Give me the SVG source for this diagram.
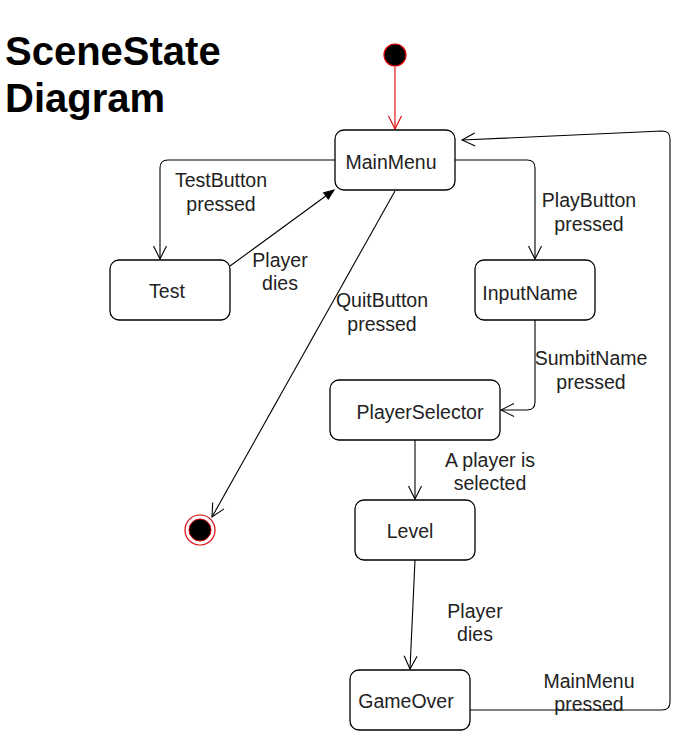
<svg xmlns="http://www.w3.org/2000/svg" width="685" height="731" viewBox="0 0 685 731">
<defs>
<style>
.node{fill:#fff;stroke:#000;stroke-width:1.3}
.t{font-family:"Liberation Sans",Arial,sans-serif;font-size:19.5px;fill:#222;text-anchor:middle}
.edge{fill:none;stroke:#000;stroke-width:1.1}
.title{font-family:"Liberation Sans",Arial,sans-serif;font-size:40px;font-weight:bold;fill:#000}
</style>
<marker id="open" markerUnits="userSpaceOnUse" markerWidth="16" markerHeight="16" viewBox="-14 -8 16 16" refX="0" refY="0" orient="auto">
<path d="M-13,-6.5 L0,0 L-13,6.5" fill="none" stroke="#000" stroke-width="1.1"/>
</marker>
<marker id="openRed" markerUnits="userSpaceOnUse" markerWidth="16" markerHeight="16" viewBox="-14 -8 16 16" refX="0" refY="0" orient="auto">
<path d="M-13,-6.5 L0,0 L-13,6.5" fill="none" stroke="#e00000" stroke-width="1.1"/>
</marker>
<marker id="block" markerUnits="userSpaceOnUse" markerWidth="12" markerHeight="12" viewBox="-11 -6 12 12" refX="0" refY="0" orient="auto">
<path d="M-10,-4 L0,0 L-10,4 Z" fill="#000" stroke="#000" stroke-width="1"/>
</marker>
</defs>
<rect width="685" height="731" fill="#fff"/>
<g id="title">
<text class="title" x="5" y="65">SceneState</text>
<text class="title" x="5" y="112">Diagram</text>
</g>
<g id="connectors">
<path class="edge" d="M395,67 L395,129" style="stroke:#e00000" marker-end="url(#openRed)"/>
<path class="edge" d="M335,160 L168,160 Q160,160 160,168 L160,259" marker-end="url(#open)"/>
<path class="edge" d="M230,266 L334,190" marker-end="url(#block)"/>
<path class="edge" d="M395,191 L212,517" marker-end="url(#open)"/>
<path class="edge" d="M455,160 L527,160 Q535,160 535,168 L535,259" marker-end="url(#open)"/>
<path class="edge" d="M535,320 L535,402 Q535,410 527,410 L501,410" marker-end="url(#open)"/>
<path class="edge" d="M415,440 L415,499" marker-end="url(#open)"/>
<path class="edge" d="M415,560 L410,669" marker-end="url(#open)"/>
<path class="edge" d="M470,710 L662,710 Q670,710 670,702 L670,139 Q670,131 662,131 L462,140" marker-end="url(#open)"/>
</g>
<g id="labels">
<text class="t" x="221" y="187">TestButton</text>
<text class="t" x="221" y="211">pressed</text>
<text class="t" x="280" y="267">Player</text>
<text class="t" x="280" y="290">dies</text>
<text class="t" x="382" y="307">QuitButton</text>
<text class="t" x="382" y="331">pressed</text>
<text class="t" x="589" y="207">PlayButton</text>
<text class="t" x="589" y="231">pressed</text>
<text class="t" x="591" y="365">SumbitName</text>
<text class="t" x="591" y="389">pressed</text>
<text class="t" x="490" y="467">A player is</text>
<text class="t" x="490" y="490">selected</text>
<text class="t" x="475" y="618">Player</text>
<text class="t" x="475" y="641">dies</text>
<text class="t" x="589" y="688">MainMenu</text>
<text class="t" x="589" y="711">pressed</text>
</g>
<g id="start">
<circle cx="395" cy="55" r="11" fill="#000" stroke="#e00000" stroke-width="1.2"/>
</g>
<g id="end">
<circle cx="200" cy="530" r="15" fill="#fff" stroke="#e00000" stroke-width="1.2"/>
<circle cx="200" cy="530" r="11" fill="#000" stroke="#e00000" stroke-width="1"/>
</g>
<g id="MainMenu">
<rect class="node" x="335" y="130" width="120" height="60" rx="9"/>
<text class="t" x="391" y="169">MainMenu</text>
</g>
<g id="Test">
<rect class="node" x="110" y="260" width="120" height="60" rx="9"/>
<text class="t" x="167" y="298">Test</text>
</g>
<g id="InputName">
<rect class="node" x="475" y="260" width="120" height="60" rx="9"/>
<text class="t" x="530" y="300">InputName</text>
</g>
<g id="PlayerSelector">
<rect class="node" x="330" y="380" width="170" height="60" rx="9"/>
<text class="t" x="420" y="419">PlayerSelector</text>
</g>
<g id="Level">
<rect class="node" x="355" y="500" width="120" height="60" rx="9"/>
<text class="t" x="410" y="538">Level</text>
</g>
<g id="GameOver">
<rect class="node" x="350" y="670" width="120" height="60" rx="9"/>
<text class="t" x="406" y="708">GameOver</text>
</g>
</svg>
